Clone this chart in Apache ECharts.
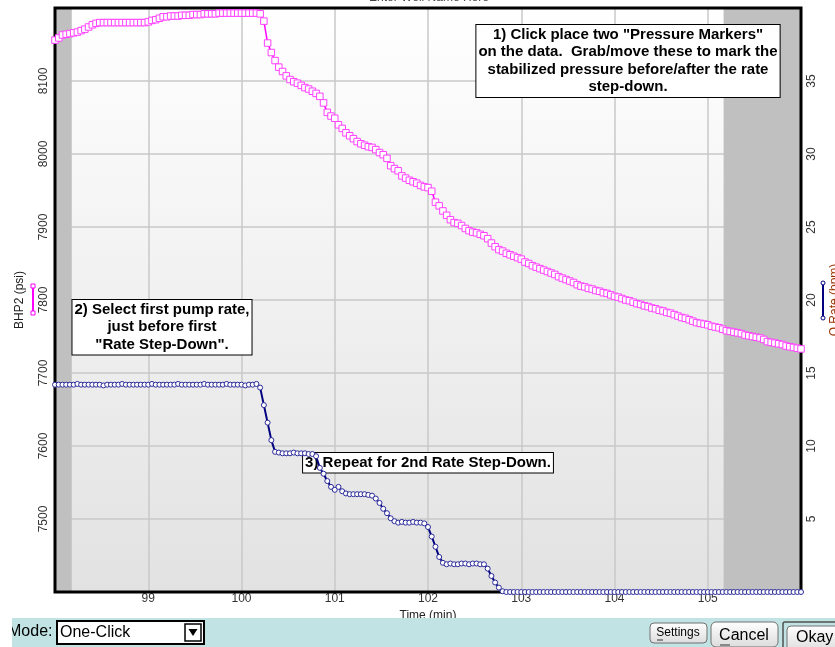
<!DOCTYPE html>
<html>
<head>
<meta charset="utf-8">
<script src="https://cdn.jsdelivr.net/npm/echarts@6/dist/echarts.min.js"></script>
<style>
  html, body { margin: 0; padding: 0; background: #fff; }
  #chart { width: 835px; height: 647px; }
</style>
</head>
<body>
<div id="chart"></div>
<script>
// sample clock of the logger (minutes)
var t0 = 98, dt = 0.04;

// BHP2 (psi), one value per sample
var pressure = [
  8156, 8159, 8163, 8164, 8165, 8166, 8167, 8169, 8171, 8174,
  8177, 8179, 8180, 8180, 8180, 8180, 8180, 8180, 8180, 8180,
  8180, 8180, 8180, 8180, 8180, 8181, 8183, 8184, 8186, 8188,
  8188, 8189, 8189, 8189, 8190, 8190, 8190, 8191, 8191, 8191,
  8192, 8192, 8192, 8192, 8193, 8193, 8193, 8193, 8193, 8193,
  8193, 8193, 8193, 8193, 8193, 8192, 8182, 8152, 8139, 8128,
  8119, 8113, 8107, 8102, 8099, 8097, 8094, 8091, 8089, 8086,
  8083, 8079, 8070, 8057, 8052, 8049, 8040, 8035, 8029, 8025,
  8021, 8017, 8014, 8012, 8010, 8009, 8006, 8002, 7999, 7994,
  7984, 7980, 7977, 7970, 7967, 7964, 7962, 7960, 7957, 7955,
  7954, 7949, 7934, 7929, 7922, 7916, 7910, 7906, 7905, 7902,
  7898, 7895, 7893, 7892, 7890, 7888, 7884, 7878, 7873, 7869,
  7867, 7864, 7862, 7860, 7858, 7856, 7852, 7850, 7847, 7845,
  7843, 7841, 7839, 7837, 7835, 7832, 7830, 7828, 7826, 7824,
  7821, 7819, 7818, 7816, 7815, 7813, 7812, 7810, 7809, 7807,
  7805, 7804, 7802, 7800, 7799, 7797, 7795, 7794, 7792, 7791,
  7789, 7788, 7786, 7785, 7783, 7782, 7780, 7778, 7776, 7775,
  7773, 7771, 7769, 7768, 7767, 7766, 7764, 7763, 7762, 7760,
  7758, 7757, 7756, 7755, 7754, 7752, 7751, 7750, 7749, 7748,
  7746, 7743, 7742, 7741, 7740, 7739, 7737, 7736, 7735, 7734,
  7733
];

// Q Rate (bpm), one value per sample
var rate = [
  14.2, 14.2, 14.2, 14.2, 14.2, 14.2, 14.25, 14.2, 14.2, 14.2,
  14.2, 14.2, 14.2, 14.15, 14.2, 14.2, 14.2, 14.2, 14.25, 14.2,
  14.2, 14.2, 14.2, 14.2, 14.2, 14.2, 14.25, 14.2, 14.2, 14.2,
  14.2, 14.2, 14.2, 14.25, 14.2, 14.2, 14.2, 14.2, 14.2, 14.2,
  14.25, 14.2, 14.2, 14.2, 14.2, 14.2, 14.25, 14.2, 14.2, 14.2,
  14.2, 14.15, 14.2, 14.2, 14.25,
  14.0, 12.8, 11.6, 10.4, 9.6,
  9.55, 9.5, 9.5, 9.5, 9.55, 9.5, 9.5, 9.5, 9.45, 9.45,
  9.3,
  8.5, 8.1, 7.6, 7.2, 7.0, 7.2, 6.9,
  6.75, 6.7, 6.7, 6.7, 6.7, 6.7, 6.65, 6.6,
  6.4, 6.1, 5.7, 5.4, 5.05, 4.85, 4.75,
  4.8, 4.75, 4.75, 4.8, 4.75, 4.75, 4.7,
  4.45, 3.8, 3.1, 2.4, 2.0,
  1.9, 1.95, 1.9, 1.9, 1.95, 1.95, 1.9, 1.95, 1.95, 1.9, 1.9,
  1.6, 1.1, 0.65, 0.3, 0.05,
  0, 0, 0, 0, 0, 0, 0, 0, 0, 0, 0, 0, 0, 0, 0, 0, 0, 0, 0, 0,
  0, 0, 0, 0, 0, 0, 0, 0, 0, 0, 0, 0, 0, 0, 0, 0, 0, 0, 0, 0,
  0, 0, 0, 0, 0, 0, 0, 0, 0, 0, 0, 0, 0, 0, 0, 0, 0, 0, 0, 0,
  0, 0, 0, 0, 0, 0, 0, 0, 0, 0, 0, 0, 0, 0, 0, 0, 0, 0, 0, 0
];

// time spans outside the selected data window (gray bands)
var shadedRanges = [[98, 98.18], [105.17, 106]];

var notes = [
  { x: 628, y: 25, lines: ['1) Click place two "Pressure Markers"', 'on the data.  Grab/move these to mark the', 'stabilized pressure before/after the rate', 'step-down.'] },
  { x: 162, y: 300, lines: ['2) Select first pump rate,', 'just before first', '"Rate Step-Down".'] },
  { x: 428, y: 453, lines: ['3) Repeat for 2nd Rate Step-Down.'] }
];

var font = 'Arial, "Liberation Sans", sans-serif';
var G = { left: 55, top: 8, right: 801, bottom: 592 };

var times = pressure.map(function (v, i) { return +(t0 + i * dt).toFixed(2); });
var pData = pressure.map(function (v, i) { return [times[i], v]; });
var qData = rate.map(function (v, i) { return [times[i], v]; });

var myChart = echarts.init(document.getElementById('chart'));

var graphics = [];

// title, mostly off the top of the window
graphics.push({ type: 'text', x: 429, y: -8, z: 5, style: { text: 'Enter Well Name Here', font: '12px ' + font, fill: '#444', align: 'center' } });

// instruction boxes
notes.forEach(function (n) {
  graphics.push({
    type: 'text', x: n.x, y: n.y, z: 5,
    style: {
      text: n.lines.join('\n'), font: 'bold 15px ' + font, fill: '#000',
      align: 'center', verticalAlign: 'top', lineHeight: 17.5,
      backgroundColor: '#fff', borderColor: '#000', borderWidth: 1, padding: [1, 2, 1, 2]
    }
  });
});

// plot frame
graphics.push({ type: 'rect', z: 8, silent: true, shape: { x: G.left, y: G.top, width: G.right - G.left, height: G.bottom - G.top }, style: { fill: 'none', stroke: '#000', lineWidth: 3 } });

// axis legend keys
graphics.push({ type: 'line', z: 5, shape: { x1: 33, y1: 286, x2: 33, y2: 313 }, style: { stroke: '#ff00ff', lineWidth: 2 } });
graphics.push({ type: 'rect', z: 6, shape: { x: 31, y: 284, width: 4, height: 4 }, style: { fill: '#fff', stroke: '#ff00ff', lineWidth: 1 } });
graphics.push({ type: 'rect', z: 6, shape: { x: 31, y: 311, width: 4, height: 4 }, style: { fill: '#fff', stroke: '#ff00ff', lineWidth: 1 } });
graphics.push({ type: 'line', z: 5, shape: { x1: 823, y1: 283, x2: 823, y2: 318 }, style: { stroke: '#000080', lineWidth: 2 } });
graphics.push({ type: 'circle', z: 6, shape: { cx: 823, cy: 283, r: 2 }, style: { fill: '#fff', stroke: '#000080', lineWidth: 1 } });
graphics.push({ type: 'circle', z: 6, shape: { cx: 823, cy: 318, r: 2 }, style: { fill: '#fff', stroke: '#000080', lineWidth: 1 } });

// bottom control bar
graphics.push({ type: 'rect', z: 1, shape: { x: 12, y: 618, width: 823, height: 29 }, style: { fill: '#c1e3e3' } });
graphics.push({ type: 'text', x: 8, y: 632, z: 2, style: { text: 'Mode:', font: '16px ' + font, fill: '#000', verticalAlign: 'middle' } });
graphics.push({ type: 'rect', z: 3, shape: { x: 0, y: 618, width: 12, height: 29 }, style: { fill: '#fff' } });
graphics.push({ type: 'rect', z: 2, shape: { x: 57, y: 621, width: 147, height: 23 }, style: { fill: '#fff', stroke: '#000', lineWidth: 2 } });
graphics.push({ type: 'text', x: 60, y: 633, z: 3, style: { text: 'One-Click', font: '16px ' + font, fill: '#000', verticalAlign: 'middle' } });
graphics.push({ type: 'rect', z: 3, shape: { x: 185, y: 624, width: 16, height: 17 }, style: { fill: '#fff', stroke: '#000', lineWidth: 1.5 } });
graphics.push({ type: 'polygon', z: 4, shape: { points: [[188.5, 629], [197.5, 629], [193, 636]] }, style: { fill: '#000' } });

var btnFill = new echarts.graphic.LinearGradient(0, 0, 0, 1, [{ offset: 0, color: '#ffffff' }, { offset: 1, color: '#dcdcdc' }]);
graphics.push({ type: 'rect', z: 2, shape: { x: 650, y: 623, width: 57, height: 20, r: 4 }, style: { fill: btnFill, stroke: '#707070', lineWidth: 1 } });
graphics.push({ type: 'text', x: 678, y: 633, z: 3, style: { text: 'Settings', font: '12px ' + font, fill: '#000', align: 'center', verticalAlign: 'middle' } });
graphics.push({ type: 'line', z: 3, shape: { x1: 657, y1: 640, x2: 663, y2: 640 }, style: { stroke: '#333', lineWidth: 1 } });
graphics.push({ type: 'rect', z: 2, shape: { x: 711, y: 622, width: 67, height: 25, r: 5 }, style: { fill: btnFill, stroke: '#707070', lineWidth: 1 } });
graphics.push({ type: 'text', x: 744, y: 636, z: 3, style: { text: 'Cancel', font: '16px ' + font, fill: '#000', align: 'center', verticalAlign: 'middle' } });
graphics.push({ type: 'line', z: 3, shape: { x1: 720, y1: 645, x2: 730, y2: 645 }, style: { stroke: '#333', lineWidth: 1 } });
graphics.push({ type: 'rect', z: 2, shape: { x: 783, y: 622, width: 60, height: 30, r: 2 }, style: { fill: 'none', stroke: '#505050', lineWidth: 1.5 } });
graphics.push({ type: 'rect', z: 2, shape: { x: 787, y: 626, width: 55, height: 26, r: 4 }, style: { fill: btnFill, stroke: '#707070', lineWidth: 1 } });
graphics.push({ type: 'text', x: 796, y: 638, z: 3, style: { text: 'Okay', font: '16px ' + font, fill: '#000', verticalAlign: 'middle' } });

var gridLine = { show: true, lineStyle: { color: '#c8c8c8', width: 1.5 } };
var plain = function (v) { return String(v); };

var option = {
  animation: false,
  textStyle: { fontFamily: font },
  grid: {
    left: G.left, top: G.top, width: G.right - G.left, height: G.bottom - G.top,
    outerBoundsMode: 'none', containLabel: false,
    show: true, borderWidth: 0,
    backgroundColor: { type: 'linear', x: 0, y: 0, x2: 0, y2: 1, colorStops: [{ offset: 0, color: '#ffffff' }, { offset: 1, color: '#e2e2e2' }] }
  },
  xAxis: {
    type: 'value', min: 98, max: 106, interval: 1,
    name: 'Time (min)', nameLocation: 'middle', nameGap: 11,
    nameTextStyle: { fontSize: 12, color: '#222' },
    axisLine: { show: false }, axisTick: { show: false },
    axisLabel: { showMinLabel: false, showMaxLabel: false, fontSize: 12, color: '#333', margin: 1, formatter: plain },
    splitLine: gridLine
  },
  yAxis: [{
    type: 'value', min: 7400, max: 8200, interval: 100,
    name: 'BHP2 (psi)', nameLocation: 'middle', nameGap: 29,
    nameTextStyle: { fontSize: 12, color: '#222' },
    axisLine: { show: false }, axisTick: { show: false },
    axisLabel: { rotate: 90, showMinLabel: false, showMaxLabel: false, fontSize: 12, color: '#333', margin: 5, formatter: plain },
    splitLine: gridLine
  }, {
    type: 'value', min: 0, max: 40, interval: 5, position: 'right',
    name: 'Q Rate (bpm)', nameLocation: 'middle', nameGap: 28,
    nameTextStyle: { fontSize: 12, color: '#993300' },
    axisLine: { show: false }, axisTick: { show: false },
    axisLabel: { rotate: 90, showMinLabel: false, showMaxLabel: false, fontSize: 12, color: '#333', margin: 5, formatter: plain },
    splitLine: { show: false }
  }],
  graphic: { elements: graphics },
  series: [{
    name: 'window', type: 'line', z: 3, silent: true,
    data: [[98, 7400]], symbol: 'none', lineStyle: { width: 0 },
    markArea: {
      silent: true,
      itemStyle: { color: '#c0c0c0' },
      data: shadedRanges.map(function (r) { return [{ xAxis: r[0] }, { xAxis: r[1] }]; })
    }
  }, {
    name: 'BHP2', type: 'line', z: 10, data: pData,
    symbol: 'rect', symbolSize: 6.5, showAllSymbol: true, clip: false,
    lineStyle: { color: '#ff00ff', width: 1.5 },
    itemStyle: { color: '#ffffff', borderColor: '#ff40ff', borderWidth: 1 }
  }, {
    name: 'Q Rate', type: 'line', z: 11, yAxisIndex: 1, data: qData,
    symbol: 'circle', symbolSize: 5, showAllSymbol: true, clip: false,
    lineStyle: { color: '#000080', width: 2 },
    itemStyle: { color: '#ffffff', borderColor: '#2a2a9a', borderWidth: 1 }
  }]
};
myChart.setOption(option);
</script>
</body>
</html>
